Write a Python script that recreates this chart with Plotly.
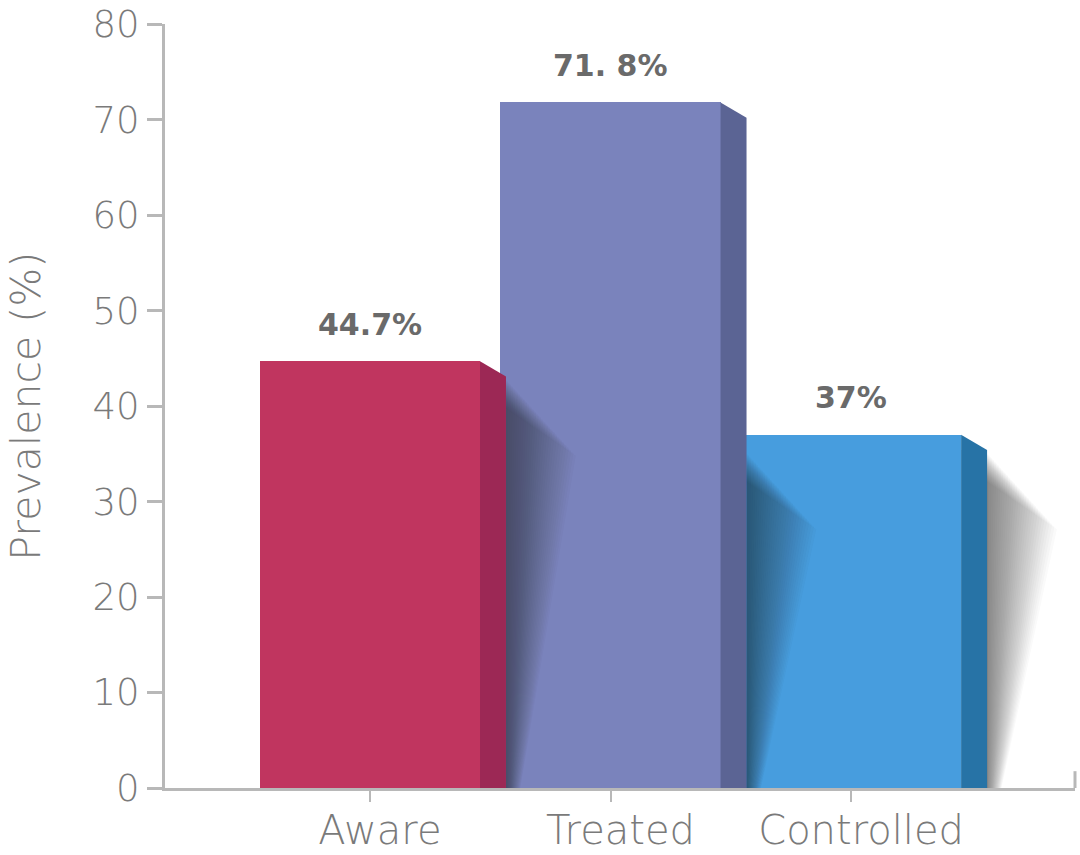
import plotly.graph_objects as go

categories = ["Aware", "Treated", "Controlled"]
values = [44.7, 71.8, 37.0]
value_labels = ["44.7%", "71. 8%", "37%"]
y_ticks = [0, 10, 20, 30, 40, 50, 60, 70, 80]

front_colors = ["#C0355F", "#7A83BC", "#479DDE"]
side_colors = ["#9C2855", "#5B6494", "#2773A6"]

FONT = "DejaVu Sans"
GRAY = "#7a7a7a"
AXIS = "#b8b8b8"

bar_w = 0.915       # front face width (x units)
depth = 0.108       # side face depth (x units)
slant = 1.6         # side top drop (y units)

xpos = list(range(len(categories)))

fig = go.Figure()

# front faces
fig.add_trace(go.Bar(
    x=xpos, y=values, width=bar_w,
    marker=dict(color=front_colors, line=dict(width=0)),
    hoverinfo="skip", showlegend=False,
))

# soft shadows to the right of each bar
N = 30
for i, v in enumerate(values):
    xr = xpos[i] + bar_w / 2 + depth
    top = (min(v, values[i + 1]) if i + 1 < len(values) else v) - slant
    for k in range(1, N + 1):
        f = k / N
        wt = 0.29 * f
        wb = 0.06 * f
        t0 = 0.3 + 3.0 * f
        drop = 5.0 * f
        fig.add_trace(go.Scatter(
            x=[xr, xr, xr + wt, xr + wb, xr],
            y=[0, top - t0, top - t0 - drop, 0, 0],
            fill="toself", mode="lines", line=dict(width=0),
            fillcolor="rgba(25,25,45,0.023)",
            hoverinfo="skip", showlegend=False,
        ))

# side faces
for i, v in enumerate(values):
    xl = xpos[i] + bar_w / 2
    fig.add_trace(go.Scatter(
        x=[xl, xl, xl + depth, xl + depth, xl],
        y=[0, v, v - slant, 0, 0],
        fill="toself", mode="lines", line=dict(width=0),
        fillcolor=side_colors[i],
        hoverinfo="skip", showlegend=False,
    ))

# value labels
for i, v in enumerate(values):
    fig.add_annotation(
        x=xpos[i], y=v, text=value_labels[i], showarrow=False,
        yanchor="middle", yshift=37,
        font=dict(family=FONT, size=30, color="#6a6a6a", weight="bold"),
    )

# y-axis title
fig.add_annotation(
    xref="paper", yref="paper", x=-0.153, y=0.50,
    text="Prevalence (%)", textangle=-90, showarrow=False,
    xanchor="center", yanchor="middle",
    font=dict(family=FONT, size=41, color=GRAY, weight=200),
)

# small upward tick at the right end of the x axis
fig.add_shape(type="line", xref="x domain", yref="y domain",
              x0=1, x1=1, y0=0, y1=0.022,
              line=dict(color=AXIS, width=3))

fig.update_layout(
    width=1080, height=855,
    margin=dict(l=165, r=5, t=24, b=67),
    paper_bgcolor="white", plot_bgcolor="white",
    bargap=0,
    font=dict(family=FONT, color=GRAY),
)

fig.update_xaxes(
    range=[-0.852, 2.931],
    tickmode="array", tickvals=xpos, ticktext=categories,
    ticks="outside", ticklen=11, tickwidth=2, tickcolor=AXIS,
    showline=True, linecolor=AXIS, linewidth=3,
    showgrid=False, zeroline=False, automargin=False,
    tickfont=dict(family=FONT, size=40, color=GRAY, weight=200),
    ticklabelshift=10, ticklabelstandoff=-6, ticklabeloverflow="allow",
)

fig.update_yaxes(
    range=[0, 80.02],
    tickmode="array", tickvals=y_ticks,
    ticks="outside", ticklen=15, tickwidth=3, tickcolor=AXIS,
    showline=True, linecolor=AXIS, linewidth=3,
    showgrid=False, zeroline=False, automargin=False,
    tickfont=dict(family=FONT, size=37, color=GRAY, weight=200),
    ticklabeloverflow="allow",
)

fig.write_html(
    "out.html",
    config={"displayModeBar": False},
    post_script="document.body.style.margin='0';document.body.style.overflow='hidden';",
)
